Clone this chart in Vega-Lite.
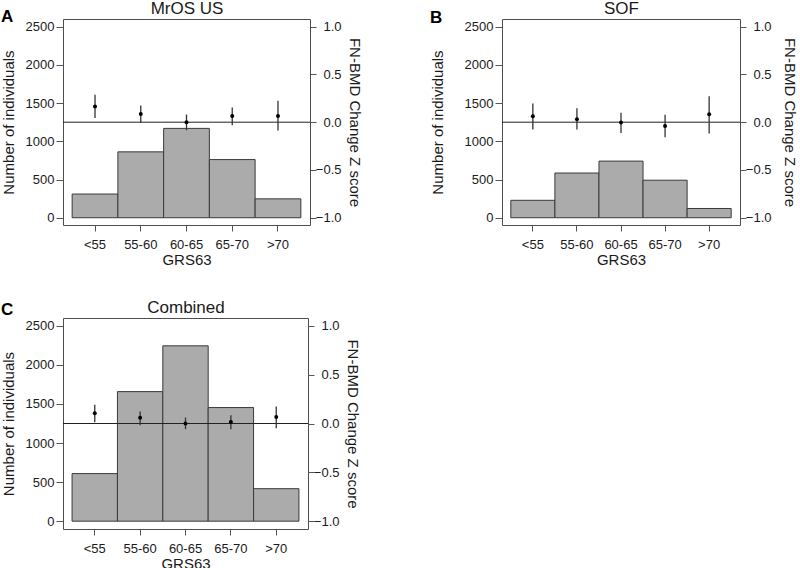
{
  "$schema": "https://vega.github.io/schema/vega-lite/v6.json",
  "background": "white",
  "padding": {"left": 0, "top": -1, "right": 0, "bottom": 0},
  "autosize": {"type": "pad"},
  "datasets": {
    "mros": [
      {"grp": "<55", "count": 310, "z": 0.164, "lo": 0.045, "hi": 0.288},
      {"grp": "55-60", "count": 862, "z": 0.087, "lo": -0.008, "hi": 0.174},
      {"grp": "60-65", "count": 1169, "z": 0.0, "lo": -0.084, "hi": 0.08},
      {"grp": "65-70", "count": 761, "z": 0.065, "lo": -0.033, "hi": 0.154},
      {"grp": ">70", "count": 247, "z": 0.065, "lo": -0.087, "hi": 0.225}
    ],
    "sof": [
      {"grp": "<55", "count": 228, "z": 0.062, "lo": -0.077, "hi": 0.195},
      {"grp": "55-60", "count": 585, "z": 0.031, "lo": -0.077, "hi": 0.147},
      {"grp": "60-65", "count": 741, "z": -0.004, "lo": -0.113, "hi": 0.1},
      {"grp": "65-70", "count": 491, "z": -0.039, "lo": -0.157, "hi": 0.078},
      {"grp": ">70", "count": 121, "z": 0.082, "lo": -0.119, "hi": 0.272}
    ],
    "comb": [
      {"grp": "<55", "count": 609, "z": 0.106, "lo": 0.012, "hi": 0.192},
      {"grp": "55-60", "count": 1658, "z": 0.06, "lo": -0.017, "hi": 0.124},
      {"grp": "60-65", "count": 2244, "z": 0.0, "lo": -0.058, "hi": 0.061},
      {"grp": "65-70", "count": 1454, "z": 0.015, "lo": -0.058, "hi": 0.085},
      {"grp": ">70", "count": 416, "z": 0.066, "lo": -0.048, "hi": 0.174}
    ],
    "zero": [{"v": 0}]
  },
  "config": {
    "font": "Liberation Sans",
    "view": {"stroke": "#4d4d4d", "strokeWidth": 1},
    "axis": {
      "domain": false, "grid": false, "tickColor": "#555555", "tickWidth": 1,
      "labelColor": "#1a1a1a", "titleColor": "#1a1a1a",
      "labelFont": "Liberation Sans", "titleFont": "Liberation Sans",
      "labelFontSize": 13, "titleFontSize": 15, "titleFontWeight": "normal"
    },
    "title": {"fontSize": 17, "fontWeight": "bold", "anchor": "start", "frame": "bounds", "color": "#000000", "font": "Liberation Sans"}
  },
  "columns": 2,
  "spacing": {"row": 93, "column": 192},
  "bounds": "flush",
  "concat": [
    {
      "width": 247, "height": 206,
      "title": {"text": "A", "dy": 30},
      "layer": [
        {
          "data": {"name": "mros"},
          "mark": {"type": "bar", "fill": "#ababab", "stroke": "#3a3a3a", "strokeWidth": 1},
          "encoding": {
            "x": {"field": "grp", "type": "nominal", "sort": null, "scale": {"paddingInner": 0, "paddingOuter": 0.2},
                  "axis": {"orient": "bottom", "title": "GRS63", "labelAngle": 0, "tickSize": 6, "labelPadding": 7, "titlePadding": 1}},
            "y": {"field": "count", "type": "quantitative", "scale": {"domain": [-95, 2600], "nice": false, "zero": false},
                  "axis": {"orient": "left", "values": [0, 500, 1000, 1500, 2000, 2500], "format": "d", "tickSize": 7, "labelPadding": 2, "title": "Number of individuals", "titlePadding": 9}}
          }
        },
        {
          "layer": [
            {
              "data": {"name": "zero"},
              "mark": {"type": "rule", "color": "#222222", "strokeWidth": 1},
              "encoding": {
                "y": {"field": "v", "type": "quantitative", "scale": {"domain": [-1.076, 1.08], "nice": false, "zero": false},
                      "axis": {"orient": "right", "values": [-1, -0.5, 0, 0.5, 1], "format": ".1f", "tickSize": 6, "labelAlign": "right", "labelPadding": 25, "title": "FN-BMD Change Z score", "titlePadding": 5}}
              }
            },
            {
              "data": {"name": "mros"},
              "mark": {"type": "rule", "color": "#333333", "strokeWidth": 1.3},
              "encoding": {
                "x": {"field": "grp", "type": "nominal", "sort": null, "axis": {"orient": "top", "title": "MrOS US", "titleFontSize": 17, "labels": false, "ticks": false, "titlePadding": 1.5}},
                "y": {"field": "lo", "type": "quantitative", "title": "FN-BMD Change Z score"},
                "y2": {"field": "hi"}
              }
            },
            {
              "data": {"name": "mros"},
              "mark": {"type": "point", "filled": true, "color": "#000000", "size": 16, "opacity": 1},
              "encoding": {
                "x": {"field": "grp", "type": "nominal", "sort": null, "axis": {"orient": "top", "title": "MrOS US", "titleFontSize": 17, "labels": false, "ticks": false, "titlePadding": 1.5}},
                "y": {"field": "z", "type": "quantitative", "title": "FN-BMD Change Z score"}
              }
            }
          ]
        }
      ],
      "resolve": {"scale": {"y": "independent"}, "axis": {"x": "independent"}}
    },
    {
      "width": 238, "height": 206,
      "title": {"text": "B", "dy": 31},
      "layer": [
        {
          "data": {"name": "sof"},
          "mark": {"type": "bar", "fill": "#ababab", "stroke": "#3a3a3a", "strokeWidth": 1},
          "encoding": {
            "x": {"field": "grp", "type": "nominal", "sort": null, "scale": {"paddingInner": 0, "paddingOuter": 0.2},
                  "axis": {"orient": "bottom", "title": "GRS63", "labelAngle": 0, "tickSize": 6, "labelPadding": 7, "titlePadding": 1}},
            "y": {"field": "count", "type": "quantitative", "scale": {"domain": [-95, 2600], "nice": false, "zero": false},
                  "axis": {"orient": "left", "values": [0, 500, 1000, 1500, 2000, 2500], "format": "d", "tickSize": 7, "labelPadding": 2, "title": "Number of individuals", "titlePadding": 19}}
          }
        },
        {
          "layer": [
            {
              "data": {"name": "zero"},
              "mark": {"type": "rule", "color": "#222222", "strokeWidth": 1},
              "encoding": {
                "y": {"field": "v", "type": "quantitative", "scale": {"domain": [-1.076, 1.08], "nice": false, "zero": false},
                      "axis": {"orient": "right", "values": [-1, -0.5, 0, 0.5, 1], "format": ".1f", "tickSize": 6, "labelAlign": "right", "labelPadding": 25, "title": "FN-BMD Change Z score", "titlePadding": 10}}
              }
            },
            {
              "data": {"name": "sof"},
              "mark": {"type": "rule", "color": "#333333", "strokeWidth": 1.3},
              "encoding": {
                "x": {"field": "grp", "type": "nominal", "sort": null, "axis": {"orient": "top", "title": "SOF", "titleFontSize": 17, "labels": false, "ticks": false, "titlePadding": 1.5}},
                "y": {"field": "lo", "type": "quantitative", "title": "FN-BMD Change Z score"},
                "y2": {"field": "hi"}
              }
            },
            {
              "data": {"name": "sof"},
              "mark": {"type": "point", "filled": true, "color": "#000000", "size": 16, "opacity": 1},
              "encoding": {
                "x": {"field": "grp", "type": "nominal", "sort": null, "axis": {"orient": "top", "title": "SOF", "titleFontSize": 17, "labels": false, "ticks": false, "titlePadding": 1.5}},
                "y": {"field": "z", "type": "quantitative", "title": "FN-BMD Change Z score"}
              }
            }
          ]
        }
      ],
      "resolve": {"scale": {"y": "independent"}, "axis": {"x": "independent"}}
    },
    {
      "width": 245, "height": 211,
      "title": {"text": "C", "dy": 24},
      "layer": [
        {
          "data": {"name": "comb"},
          "mark": {"type": "bar", "fill": "#ababab", "stroke": "#3a3a3a", "strokeWidth": 1},
          "encoding": {
            "x": {"field": "grp", "type": "nominal", "sort": null, "scale": {"paddingInner": 0, "paddingOuter": 0.2},
                  "axis": {"orient": "bottom", "title": "GRS63", "labelAngle": 0, "tickSize": 6, "labelPadding": 7, "titlePadding": 1}},
            "y": {"field": "count", "type": "quantitative", "scale": {"domain": [-100, 2600], "nice": false, "zero": false},
                  "axis": {"orient": "left", "values": [0, 500, 1000, 1500, 2000, 2500], "format": "d", "tickSize": 7, "labelPadding": 2, "title": "Number of individuals", "titlePadding": 9}}
          }
        },
        {
          "layer": [
            {
              "data": {"name": "zero"},
              "mark": {"type": "rule", "color": "#222222", "strokeWidth": 1},
              "encoding": {
                "y": {"field": "v", "type": "quantitative", "scale": {"domain": [-1.08, 1.08], "nice": false, "zero": false},
                      "axis": {"orient": "right", "values": [-1, -0.5, 0, 0.5, 1], "format": ".1f", "tickSize": 6, "labelAlign": "right", "labelPadding": 25, "title": "FN-BMD Change Z score", "titlePadding": 5}}
              }
            },
            {
              "data": {"name": "comb"},
              "mark": {"type": "rule", "color": "#333333", "strokeWidth": 1.3},
              "encoding": {
                "x": {"field": "grp", "type": "nominal", "sort": null, "axis": {"orient": "top", "title": "Combined", "titleFontSize": 17, "labels": false, "ticks": false, "titlePadding": 1.5}},
                "y": {"field": "lo", "type": "quantitative", "title": "FN-BMD Change Z score"},
                "y2": {"field": "hi"}
              }
            },
            {
              "data": {"name": "comb"},
              "mark": {"type": "point", "filled": true, "color": "#000000", "size": 16, "opacity": 1},
              "encoding": {
                "x": {"field": "grp", "type": "nominal", "sort": null, "axis": {"orient": "top", "title": "Combined", "titleFontSize": 17, "labels": false, "ticks": false, "titlePadding": 1.5}},
                "y": {"field": "z", "type": "quantitative", "title": "FN-BMD Change Z score"}
              }
            }
          ]
        }
      ],
      "resolve": {"scale": {"y": "independent"}, "axis": {"x": "independent"}}
    }
  ]
}
